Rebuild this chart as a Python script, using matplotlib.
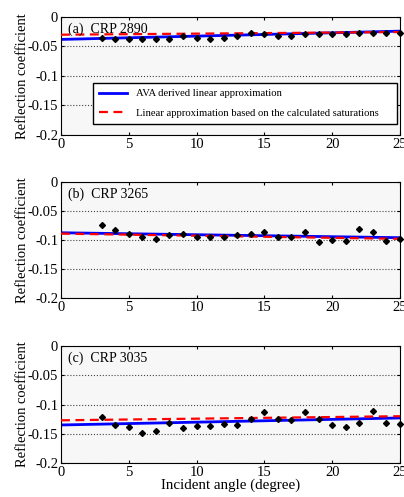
import matplotlib.pyplot as plt
import numpy as np

plt.rcParams['font.family'] = ['Liberation Serif', 'DejaVu Serif']

angles = list(range(3, 26))

# measured reflection coefficients, one list per CRP
crp_2890 = [-0.036, -0.037, -0.037, -0.038, -0.038, -0.037, -0.033, -0.035, -0.037, -0.036,
            -0.033, -0.027, -0.029, -0.033, -0.033, -0.029, -0.029, -0.028, -0.028, -0.027,
            -0.027, -0.027, -0.027]
crp_3265 = [-0.074, -0.082, -0.089, -0.095, -0.098, -0.092, -0.089, -0.095, -0.095, -0.095,
            -0.092, -0.089, -0.087, -0.095, -0.095, -0.087, -0.104, -0.100, -0.101, -0.081,
            -0.086, -0.101, -0.098]
crp_3035 = [-0.121, -0.135, -0.138, -0.148, -0.146, -0.131, -0.141, -0.137, -0.137, -0.134,
            -0.135, -0.125, -0.112, -0.125, -0.126, -0.112, -0.125, -0.135, -0.138, -0.131,
            -0.111, -0.131, -0.133]

# linear approximations: values at 0 and 25 degrees
line_x = [0, 25]
ava_fit = {'2890': [-0.038, -0.024], '3265': [-0.0875, -0.096], '3035': [-0.135, -0.123]}
sat_fit = {'2890': [-0.030, -0.0255], '3265': [-0.089, -0.098], '3035': [-0.127, -0.120]}

panels = [('(a)', '2890', crp_2890), ('(b)', '3265', crp_3265), ('(c)', '3035', crp_3035)]
positions = [[0.151, 0.7284, 0.839, 0.2374],
             [0.151, 0.4004, 0.839, 0.2334],
             [0.151, 0.0684, 0.839, 0.2354]]

fig = plt.figure(figsize=(4.04, 4.97), dpi=100)

for (tag, crp, vals), pos in zip(panels, positions):
    ax = fig.add_axes(pos)
    ax.set_facecolor('#f7f7f7')
    l1, = ax.plot(line_x, ava_fit[crp], color='#0000ff', lw=2.0, zorder=2)
    l2, = ax.plot(line_x, sat_fit[crp], color='#ff0000', lw=1.6, ls=(0, (4, 2.5)), zorder=3)
    ax.plot(angles, vals, ls='none', marker='D', ms=3.0, color='black', zorder=4, clip_on=False)
    ax.set_xlim(0, 25)
    ax.set_ylim(-0.2, 0)
    ax.set_xticks([0, 5, 10, 15, 20, 25])
    ax.set_yticks([-0.2, -0.15, -0.1, -0.05, 0])
    ax.set_yticklabels(['-0.2', '-0.15', '-0.1', '-0.05', '0'])
    ax.yaxis.grid(True, ls=':', color='#444444', lw=0.8)
    ax.tick_params(direction='in', length=2.5, labelsize=10.5, top=True, right=True, pad=2)
    ax.set_ylabel('Reflection coefficient', fontsize=10.5, labelpad=-1)
    ax.text(0.02, 0.95, tag + '  CRP ' + crp, transform=ax.transAxes, fontsize=10,
            va='top', ha='left')
    if crp == '2890':
        ax.legend([l1, l2], ['AVA derived linear approximation',
                             'Linear approximation based on the calculated saturations'],
                  loc='lower left', bbox_to_anchor=(0.094, 0.093, 0.897, 0.35), mode='expand',
                  fontsize=7.7, fancybox=False, framealpha=1, edgecolor='black',
                  handlelength=2.6, borderaxespad=0, borderpad=0.6, labelspacing=0.9)
    if crp == '3035':
        ax.set_xlabel('Incident angle (degree)', fontsize=10.8, labelpad=0)

fig.savefig('out.png', dpi=100)
